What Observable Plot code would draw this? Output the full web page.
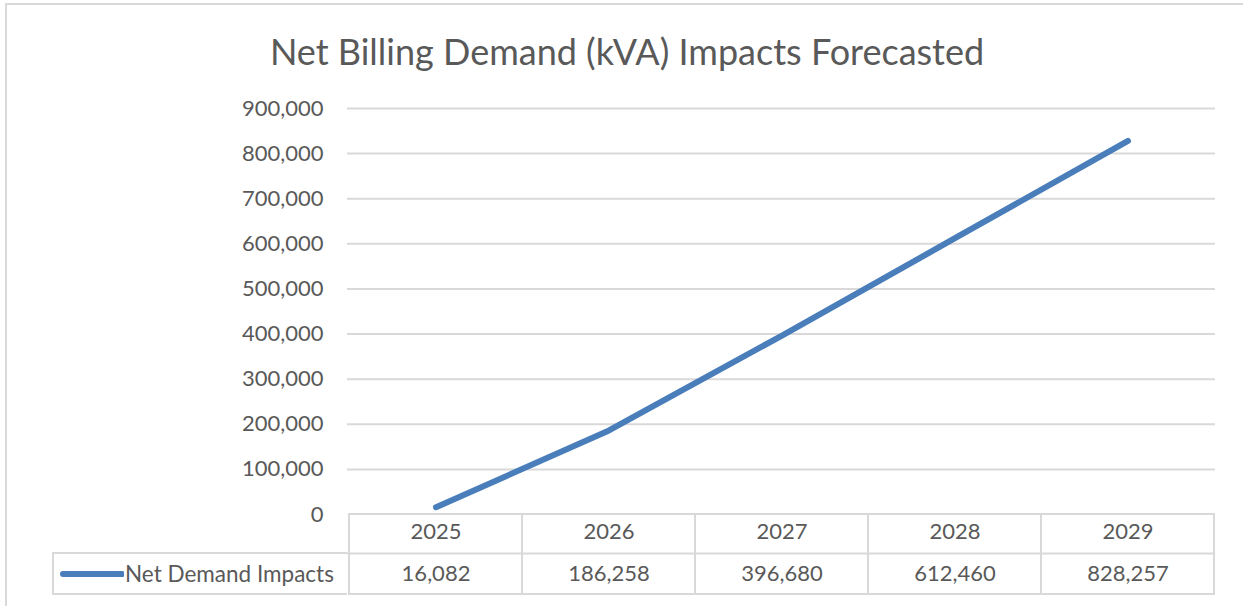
<!DOCTYPE html>
<html>
<head>
<meta charset="utf-8">
<script src="https://cdn.jsdelivr.net/npm/d3@7"></script>
<script src="https://cdn.jsdelivr.net/npm/@observablehq/plot@0.6"></script>
<style>
  html, body { margin: 0; padding: 0; background: #fff; }
  #wrap { position: relative; width: 1243px; height: 606px; overflow: hidden; font-family: Lato, "Open Sans", sans-serif; color: #595959; }
  #frame { position: absolute; left: 5px; top: 3px; width: 1300px; height: 700px; border-left: 2px solid #d9d9d9; border-top: 2px solid #d9d9d9; }
  #title { position: absolute; left: 0; top: 29px; width: 1254px; text-align: center; font-size: 36px; line-height: 44px; color: #595959; }
  #chart { position: absolute; left: 0; top: 0; }
  #legend { position: absolute; left: 52px; top: 552px; width: 293px; height: 39px; border: 2px solid #d9d9d9; border-right: none; display: flex; align-items: center; font-size: 22.5px; }
  #legend svg { margin-left: 4px; margin-right: 1px; }
</style>
</head>
<body>
<div id="wrap">
  <div id="frame"></div>
  <div id="title"></div>
  <div id="chart"></div>
  <div id="legend"></div>
</div>
<script>
const titleText = "Net Billing Demand (kVA) Impacts Forecasted";
const seriesName = "Net Demand Impacts";
const years = ["2025", "2026", "2027", "2028", "2029"];
const values = [16082, 186258, 396680, 612460, 828257];
const yTicks = [0, 100000, 200000, 300000, 400000, 500000, 600000, 700000, 800000, 900000];

const lineColor = "#4a7ebb";
const gridColor = "#d9d9d9";
const textColor = "#595959";
const fmt = d3.format(",");

const data = years.map((y, i) => ({year: y, value: values[i]}));

const W = 1243, H = 606;
const mL = 347, mR = 28, mT = 108, mB = 92;
const rowH = 39;     // header row height
const tableH = 80;   // header + data row

document.getElementById("title").textContent = titleText;

const chart = Plot.plot({
  width: W,
  height: H,
  marginLeft: mL,
  marginRight: mR,
  marginTop: mT,
  marginBottom: mB,
  style: {fontFamily: "Lato, 'Open Sans', sans-serif", color: textColor, background: "transparent"},
  x: {domain: years, padding: 0, label: null},
  y: {domain: [0, 900000], ticks: yTicks, label: null},
  marks: [
    Plot.gridY(yTicks.filter(d => d > 0), {stroke: gridColor, strokeOpacity: 1, strokeWidth: 2}),
    Plot.axisY({ticks: yTicks, tickSize: 0, tickPadding: 24, tickFormat: fmt, fontSize: 22, fill: textColor, label: null}),
    // table cells: one column per year spanning both rows
    Plot.barY(years, {x: d => d, y1: 0, y2: 0, fill: "none", stroke: gridColor, strokeWidth: 2, insetBottom: -tableH}),
    // divider between header and data row
    Plot.ruleY([0], {dy: rowH, stroke: gridColor, strokeWidth: 2}),
    // header row (categories)
    Plot.axisX({tickSize: 0, tickPadding: 9, fontSize: 22, fill: textColor, label: null}),
    // data row (values)
    Plot.text(data, {x: "year", y: () => 0, text: d => fmt(d.value), dy: rowH + 20, fontSize: 22, fill: textColor, lineAnchor: "middle"}),
    Plot.line(data, {x: "year", y: "value", stroke: lineColor, strokeWidth: 6, strokeLinecap: "round", strokeLinejoin: "round"})
  ]
});
document.getElementById("chart").appendChild(chart);

// legend cell of the data table
const legend = document.getElementById("legend");
legend.innerHTML = `<svg width="66" height="10"><line x1="5" y1="5" x2="64" y2="5" stroke="${lineColor}" stroke-width="6" stroke-linecap="round"/></svg><span></span>`;
legend.querySelector("span").textContent = seriesName;
</script>
</body>
</html>
